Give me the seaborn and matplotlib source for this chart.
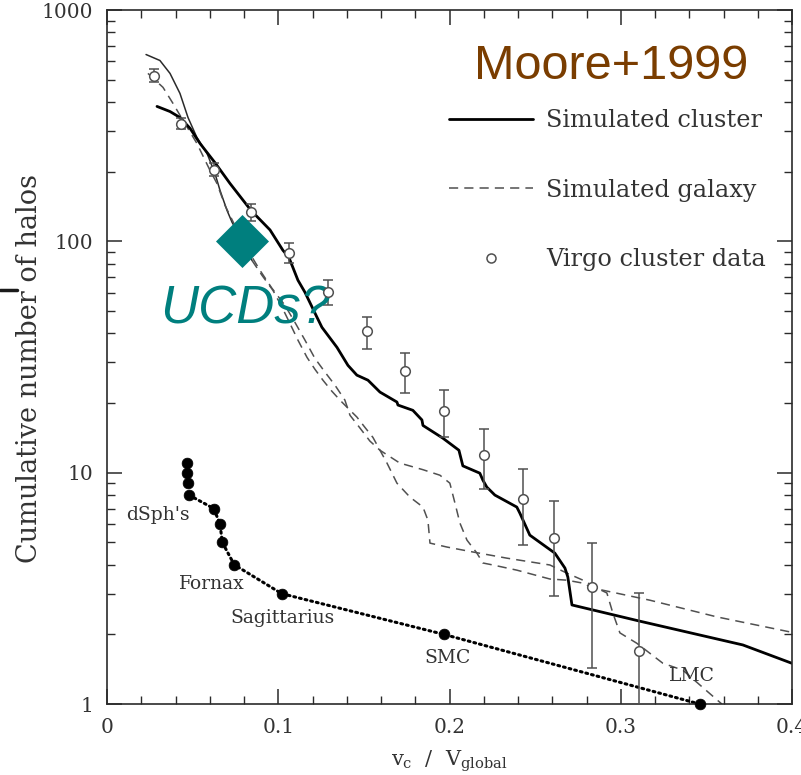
import matplotlib
matplotlib.use("Agg")
import matplotlib.pyplot as plt
from matplotlib.lines import Line2D
from matplotlib.ticker import FixedLocator, NullFormatter, MultipleLocator, LogLocator
import numpy as np
import seaborn as sns

# ---- cumulative subhalo counts vs v_c / V_global ----
cluster_v = [0.0292, 0.0368, 0.0426, 0.0485, 0.0543, 0.0630, 0.0718, 0.0841, 0.0952, 0.1027,
             0.1062, 0.1115, 0.1156, 0.1226, 0.1255, 0.1343, 0.1407, 0.1459, 0.1524, 0.1594,
             0.1693, 0.1699, 0.1786, 0.1839, 0.1845, 0.1961, 0.2055, 0.2078, 0.2177, 0.2195,
             0.2218, 0.2265, 0.2393, 0.2411, 0.2469, 0.2615, 0.2674, 0.2691, 0.2715, 0.3112,
             0.3713, 0.3999]
cluster_n = [383, 364, 343, 308, 265, 219, 178, 136, 112, 91.5,
             85.3, 67.9, 60.2, 47.0, 42.5, 34.8, 29.1, 26.4, 25.1, 22.3,
             20.2, 19.6, 18.6, 16.9, 16.0, 14.1, 12.5, 10.7, 9.95, 9.28,
             8.66, 8.0, 7.10, 6.68, 5.37, 4.49, 3.87, 3.54, 2.68, 2.28,
             1.80, 1.50]

galaxy_a_v = [0.0228, 0.0309, 0.0368, 0.0426, 0.0473, 0.0525, 0.0584, 0.0630, 0.0660, 0.0701,
              0.0730, 0.0788, 0.0846, 0.0905, 0.0969, 0.1022, 0.1068, 0.1115, 0.1168, 0.1214,
              0.1261, 0.1313, 0.1360, 0.1407, 0.1459, 0.1506, 0.1553, 0.1635, 0.1693, 0.1769,
              0.1845, 0.1874, 0.1886, 0.1985, 0.2137, 0.2335, 0.2586, 0.2685, 0.2779, 0.2860,
              0.2919, 0.2954, 0.2995, 0.3094, 0.3246, 0.3363, 0.3590]
galaxy_a_n = [642, 605, 532, 436, 343, 281, 240, 197, 166, 136,
              121, 101, 82.8, 71.3, 61.4, 51.9, 44.2, 37.4, 31.5, 28.0,
              25.1, 22.5, 20.6, 19.0, 17.4, 15.7, 14.2, 11.0, 9.01, 7.84,
              7.10, 6.23, 4.96, 4.77, 4.54, 4.27, 3.99, 3.68, 3.43, 3.17,
              3.02, 2.47, 2.03, 1.83, 1.50, 1.40, 1.0]

galaxy_b_v = [0.0239, 0.0327, 0.0385, 0.0455, 0.0525, 0.0601, 0.0642, 0.0689, 0.0747, 0.0823,
              0.0893, 0.0963, 0.1039, 0.1097, 0.1156, 0.1214, 0.1273, 0.1331, 0.1389, 0.1419,
              0.1477, 0.1535, 0.1594, 0.1710, 0.1845, 0.1944, 0.2002, 0.2032, 0.2061, 0.2102,
              0.2160, 0.2195, 0.2253, 0.2393, 0.2586, 0.2685, 0.2779, 0.2837, 0.3170, 0.3561,
              0.3987]
galaxy_b_n = [532, 463, 395, 323, 265, 203, 178, 143, 117, 91.5,
              75.0, 62.7, 52.9, 44.7, 37.4, 31.2, 27.2, 23.9, 20.6, 17.7,
              15.6, 13.7, 12.5, 11.0, 10.3, 9.75, 9.01, 7.38, 6.05, 5.11,
              4.49, 4.07, 3.99, 3.79, 3.47, 3.43, 3.33, 3.17, 2.81, 2.38,
              2.05]

virgo_v = [0.0276, 0.0432, 0.0625, 0.0840, 0.1064, 0.1292, 0.1516, 0.1743, 0.1970, 0.2202,
           0.2427, 0.2613, 0.2835, 0.3107]
virgo_n = [521, 322, 204, 134, 89.4, 60.4, 41.0, 27.5, 18.5, 11.9, 7.66, 5.21, 3.20, 1.70]
virgo_lo = [490, 305, 192, 123, 80.4, 52.9, 34.4, 22.2, 14.2, 8.46, 4.86, 2.93, 1.43, 0.8]
virgo_hi = [555, 340, 218, 145.5, 98.7, 68.3, 47.2, 32.9, 22.7, 15.4, 10.4, 7.53, 4.99, 3.01]

mw_v = [0.0465, 0.0465, 0.0471, 0.0479, 0.0623, 0.0660, 0.0673, 0.0743, 0.1020, 0.1967, 0.3460]
mw_n = [11, 10, 9, 8, 7, 6, 5, 4, 3, 2, 1]

mw_labels = ["dSph's", "Fornax", "Sagittarius", "SMC", "LMC"]
mw_label_v = [0.0298, 0.0613, 0.1027, 0.1990, 0.3415]
mw_label_n = [6.55, 3.30, 2.35, 1.58, 1.32]

ucd_v = [0.079]
ucd_n = [100]

x_ticks = [0, 0.1, 0.2, 0.3, 0.4]
x_ticklabels = ["0", "0.1", "0.2", "0.3", "0.4"]
y_ticks = [1, 10, 100, 1000]
y_ticklabels = ["1", "10", "100", "1000"]

# ---- style ----
sns.set_theme(style="ticks")
plt.rcParams["font.family"] = ["DejaVu Serif"]
plt.rcParams["mathtext.fontset"] = "dejavuserif"

ink = "#2a2a2a"
grey = "#505050"
teal = "#007f7e"
brown = "#7a3d00"

fig = plt.figure(figsize=(8.01, 7.75), dpi=100)
ax = fig.add_axes([107 / 801, 71 / 775, 685 / 801, 694 / 775])
ax.set_yscale("log")
ax.set_xlim(0, 0.4)
ax.set_ylim(1, 1000)

dash = (0, (6, 4))

# simulated galaxies: upper part of the first one is traced solid
split = 13
sns.lineplot(x=galaxy_a_v[:split], y=galaxy_a_n[:split], ax=ax, color=ink,
             linewidth=1.1, sort=False, estimator=None)
sns.lineplot(x=galaxy_a_v[split - 1:], y=galaxy_a_n[split - 1:], ax=ax, color=grey,
             linewidth=1.1, linestyle=dash, sort=False, estimator=None)
sns.lineplot(x=galaxy_b_v, y=galaxy_b_n, ax=ax, color=grey,
             linewidth=1.1, linestyle=dash, sort=False, estimator=None)

# simulated cluster
sns.lineplot(x=cluster_v, y=cluster_n, ax=ax, color="black",
             linewidth=2.0, sort=False, estimator=None)

# Virgo cluster data with error bars
vn = np.array(virgo_n)
ax.errorbar(virgo_v, virgo_n,
            yerr=[vn - np.array(virgo_lo), np.array(virgo_hi) - vn],
            fmt="none", ecolor=grey, elinewidth=1.1, capsize=3.5, capthick=1.1, zorder=3)
sns.scatterplot(x=virgo_v, y=virgo_n, ax=ax, marker="o", s=48,
                facecolor="white", edgecolor=grey, linewidth=1.1, zorder=4)

# Milky Way satellites
sns.lineplot(x=mw_v[3:], y=mw_n[3:], ax=ax, color="black", linewidth=2.2,
             linestyle=(0, (0.6, 1.3)), dash_capstyle="round", sort=False, estimator=None)
sns.scatterplot(x=mw_v, y=mw_n, ax=ax, color="black", s=60, edgecolor="black",
                linewidth=0.5, zorder=5, clip_on=False)
for lab, lv, ln in zip(mw_labels, mw_label_v, mw_label_n):
    ax.text(lv, ln, lab, fontsize=13.5, color="#333333", ha="center", va="center")

# UCD point
sns.scatterplot(x=ucd_v, y=ucd_n, ax=ax, marker="D", s=27 ** 2, color=teal,
                edgecolor=teal, linewidth=0, zorder=6)
ax.text(0.2015, 0.568, "UCDs?", transform=ax.transAxes, fontsize=38,
        family="Liberation Sans", style="italic", color=teal, ha="center", va="center")

ax.text(0.736, 0.919, "Moore+1999", transform=ax.transAxes, fontsize=35,
        family="Liberation Sans", color=brown, ha="center", va="center")

# legend
handles = [
    Line2D([], [], color="black", linewidth=2.0),
    Line2D([], [], color=grey, linewidth=1.1, linestyle=dash),
    Line2D([], [], linestyle="none", marker="o", markersize=6.5,
           markerfacecolor="none", markeredgecolor=grey, markeredgewidth=1.1),
]
ax.legend(handles, ["Simulated cluster", "Simulated galaxy", "Virgo cluster data"],
          loc="upper left", bbox_to_anchor=(0.499, 0.857), frameon=False,
          fontsize=17.3, handlelength=3.5, handletextpad=0.54, labelspacing=1.94,
          borderpad=0, borderaxespad=0, labelcolor="#333333")

# axes, ticks
ax.xaxis.set_major_locator(FixedLocator(x_ticks))
ax.set_xticklabels(x_ticklabels)
ax.xaxis.set_minor_locator(MultipleLocator(0.02))
ax.yaxis.set_major_locator(FixedLocator(y_ticks))
ax.set_yticklabels(y_ticklabels)
ax.yaxis.set_minor_locator(LogLocator(base=10, subs=np.arange(2, 10)))
ax.yaxis.set_minor_formatter(NullFormatter())
ax.tick_params(which="both", direction="in", top=True, right=True, color=ink,
               labelcolor="#333333")
ax.tick_params(which="major", length=11, width=1.1, labelsize=14.5, pad=10)
ax.tick_params(which="minor", length=5.5, width=1.0)
for sp in ax.spines.values():
    sp.set_visible(True)
    sp.set_color(ink)
    sp.set_linewidth(1.2)

ax.set_xlabel(r"v$_\mathregular{c}$  /  V$_\mathregular{global}$", fontsize=15,
              color="#333333", labelpad=8)
ax.set_ylabel("Cumulative number of halos", fontsize=19.5, color="#333333")
ax.yaxis.set_label_coords((43 - 107) / 685, 0.484)

fig.add_artist(Line2D([0, 17 / 801], [1 - 290 / 775, 1 - 290 / 775],
                      transform=fig.transFigure, color="#1a1a1a", linewidth=2.5))

fig.savefig("out.png", dpi=100, facecolor="white")
